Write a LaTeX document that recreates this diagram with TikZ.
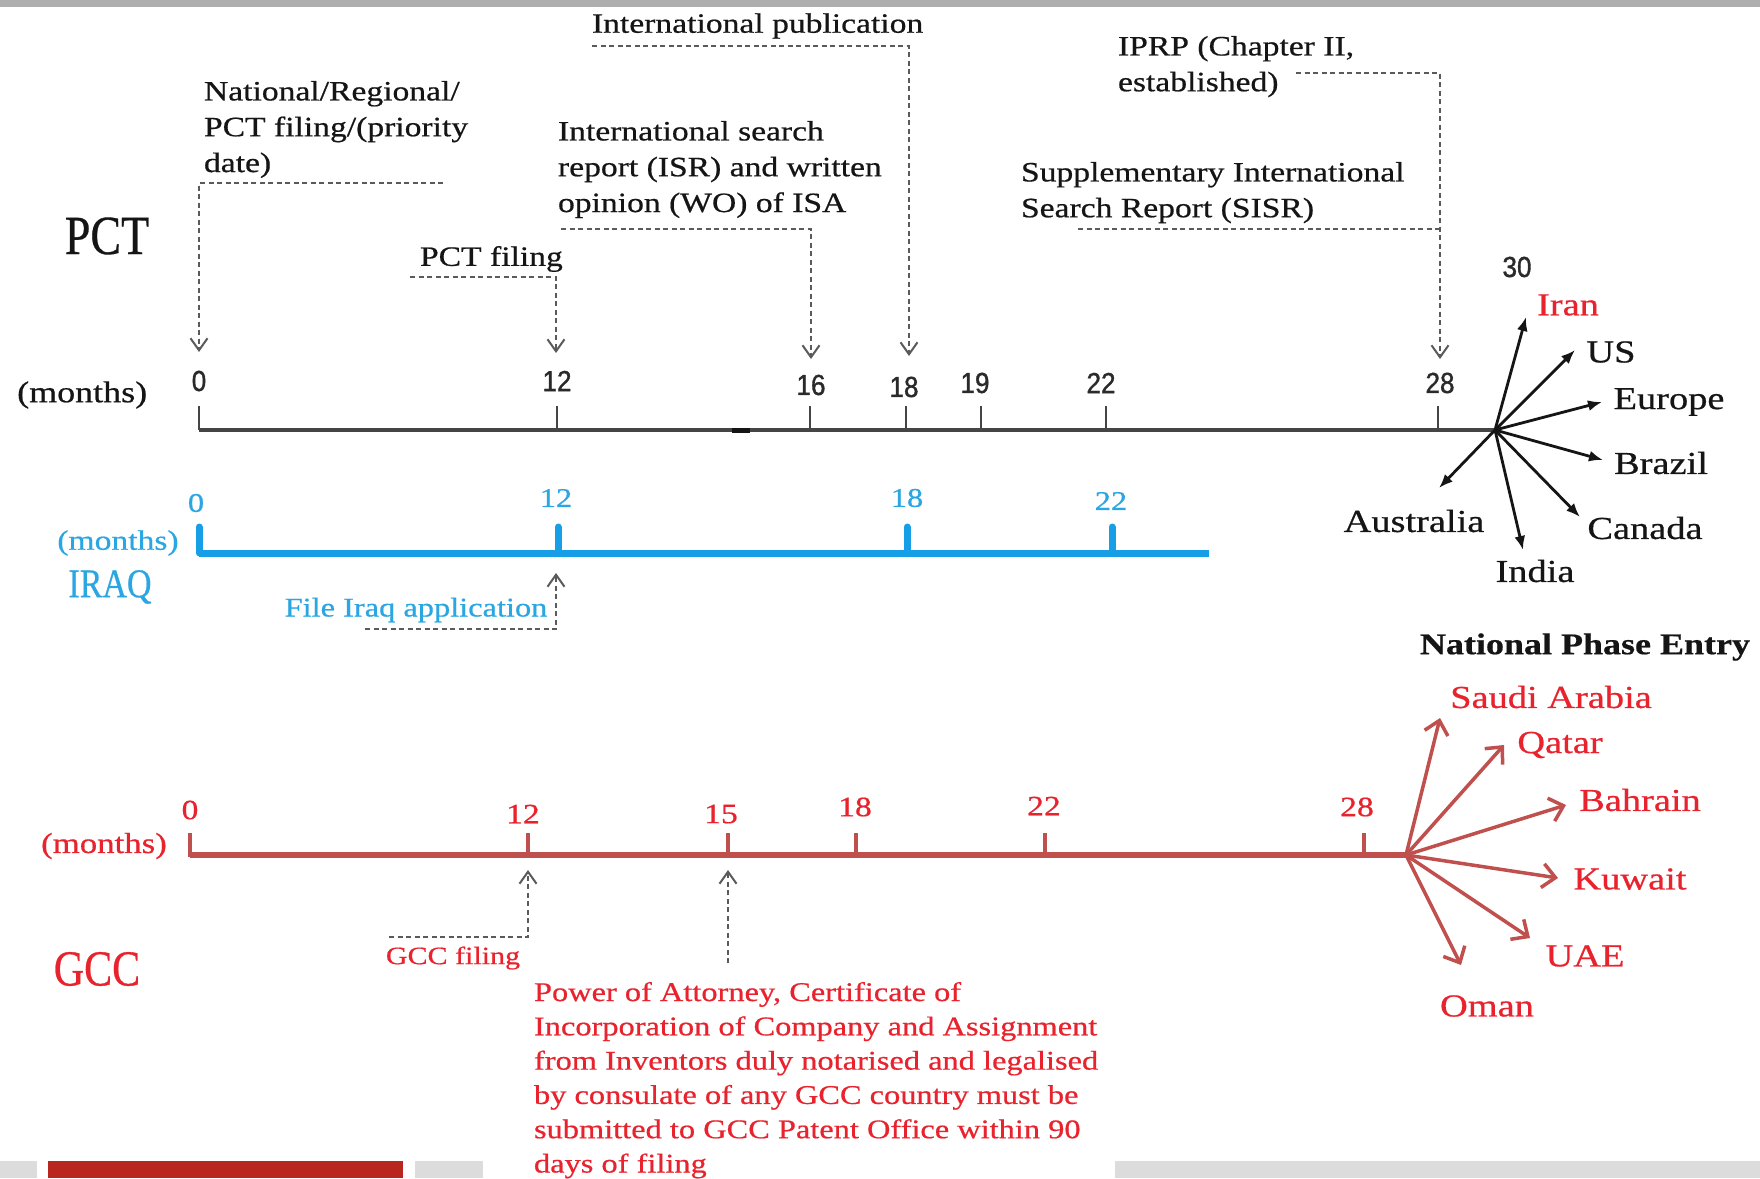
\documentclass[tikz,border=0pt]{standalone}
\usepackage{fontspec}
\setmainfont{Liberation Serif}[FakeStretch=1.2,FakeBold=0.6]
\newfontfamily\plainserif{Liberation Serif}[FakeBold=0.6]
\newfontfamily\arialf{Liberation Sans}[FakeStretch=0.9,FakeBold=1.2]
\usetikzlibrary{arrows.meta}
\definecolor{txtblack}{HTML}{151515}
\definecolor{numgray}{HTML}{2A2A2A}
\definecolor{pctgray}{HTML}{454545}
\definecolor{dashgray}{HTML}{5A5A5A}
\definecolor{iraqblue}{HTML}{169FE6}
\definecolor{iraqtxt}{HTML}{2AA6E2}
\definecolor{gccline}{HTML}{C0504D}
\definecolor{gcctxt}{HTML}{E8232E}
\definecolor{barsgray}{HTML}{DCDCDC}
\definecolor{topgray}{HTML}{AEAEAE}
\definecolor{blockred}{HTML}{B8261F}
\tikzset{
  lbl/.style={inner sep=0pt, outer sep=0pt, align=left, text=txtblack, font=\fontsize{28}{35.8}\selectfont},
  numk/.style={inner sep=0pt, text=numgray, font=\arialf\fontsize{29}{32}\selectfont},
  numb/.style={inner sep=0pt, text=iraqtxt, font=\fontsize{27}{30}\selectfont},
  numr/.style={inner sep=0pt, text=gcctxt, font=\fontsize{28}{30}\selectfont},
  ctry/.style={inner sep=0pt, text=txtblack, font=\fontsize{32}{36}\selectfont},
  rctry/.style={inner sep=0pt, text=gcctxt, font=\fontsize{32}{36}\selectfont},
  connline/.style={draw=dashgray, line width=2pt, dash pattern=on 5pt off 3.5pt},
  conn/.style={connline, -{Straight Barb[length=12pt,width=17pt,line width=2pt]}},
  pctline/.style={draw=pctgray, line width=3.4pt},
  pcttick/.style={draw=pctgray, line width=2.8pt},
  pctarrow/.style={draw=txtblack, line width=2.8pt, -{Latex[length=14pt,width=11pt]}},
  iraqline/.style={draw=iraqblue, line width=7pt},
  iraqtick/.style={draw=iraqblue, line width=7pt, line cap=round},
  gccl/.style={draw=gccline, line width=5.5pt},
  gcctick/.style={draw=gccline, line width=4pt},
  gccarrow/.style={draw=gccline, line width=3.5pt, -{Straight Barb[length=13pt,width=24pt,line width=3.5pt]}},
}
\begin{document}
\begin{tikzpicture}[x=1pt,y=-1pt]
\useasboundingbox (0,0) rectangle (1760,1178);
\fill[white] (0,0) rectangle (1760,1178);
% top rule and bottom strip
\fill[topgray] (0,0) rectangle (1760,7);
\fill[barsgray] (0,1161) rectangle (37,1178);
\fill[blockred] (48,1161) rectangle (403,1178);
\fill[barsgray] (415,1161) rectangle (483,1178);
\fill[barsgray] (1115,1161) rectangle (1760,1178);

% ================= PCT =================
\node[inner sep=0pt, text=txtblack, font=\plainserif\fontsize{46}{50}\selectfont] (pct) at (107,236) {\scalebox{1}[1.2]{PCT}};
\node[inner sep=0pt, text=txtblack, font=\fontsize{30}{34}\selectfont, anchor=west] (pmon) at (17,395) {(months)};

\coordinate (pstart) at (199,430);
\coordinate (phub) at (1495,430);
\draw[pctline] (pstart) -- (phub);
\fill[txtblack] (732,427.5) rectangle (750,433);
\foreach \n/\x in {t0/199,t12/557,t16/810,t18/906,t19/981,t22/1106,t28/1438}{
  \coordinate (\n) at (\x,430);
  \draw[pcttick] (\n) -- ++(0,-24);
}
\node[numk] (p0) at (199,381) {0};
\node[numk] (p12) at (557,381) {12};
\node[numk] (p16) at (811,385) {16};
\node[numk] (p18) at (904,387) {18};
\node[numk] (p19) at (975,383) {19};
\node[numk] (p22) at (1101,383) {22};
\node[numk] (p28) at (1440,383) {28};
\node[numk] (p30) at (1517,267) {30};

% annotation texts
\node[lbl, anchor=west] (pub) at (592,26) {International publication};
\node[lbl, anchor=north west] (natl) at (204,81) {National/Regional/\\PCT filing/(priority\\date)};
\node[lbl, anchor=west] (pctf) at (420,259) {PCT filing};
\node[lbl, anchor=north west] (isr) at (558,121) {International search\\report (ISR) and written\\opinion (WO) of ISA};
\node[lbl, anchor=north west] (iprp) at (1118,36) {IPRP (Chapter II,\\established)};
\node[lbl, anchor=north west] (sisr) at (1021,162) {Supplementary International\\Search Report (SISR)};

% dashed connectors
\coordinate (natlA) at (443,183); \coordinate (a0) at (199,352);
\coordinate (pctfA) at (410,277); \coordinate (a12) at (556,353);
\coordinate (isrA) at (561,229); \coordinate (a16) at (811,359);
\coordinate (pubA) at (592,46); \coordinate (a18) at (909,356);
\coordinate (iprpA) at (1296,73); \coordinate (a28) at (1440,359);
\coordinate (sisrA) at (1078,229); \coordinate (sisrB) at (1440,229);
\draw[conn] (natlA) -| (a0);
\draw[conn] (pctfA) -| (a12);
\draw[conn] (isrA) -| (a16);
\draw[conn] (pubA) -| (a18);
\draw[conn] (iprpA) -| (a28);
\draw[connline] (sisrA) -- (sisrB);

% country fan
\foreach \n/\x/\y in {eIran/1526/317,eUS/1575/350,eEurope/1602/402,eBrazil/1603/460,eCanada/1580/517,eIndia/1523/550,eAustralia/1439/488}{
  \coordinate (\n) at (\x,\y);
  \draw[pctarrow] (phub) -- (\n);
}
\node[ctry, text=gcctxt] (iran) at (1568,305) {Iran};
\node[ctry] (us) at (1611,352) {US};
\node[ctry] (europe) at (1669,402) {Europe};
\node[ctry] (brazil) at (1661,463) {Brazil};
\node[ctry] (canada) at (1645,528) {Canada};
\node[ctry] (india) at (1535,571) {India};
\node[ctry] (australia) at (1414,521) {Australia};

% ================= IRAQ =================
\coordinate (istart) at (199,553);
\coordinate (iend) at (1209,553);
\draw[iraqline] (istart) -- (iend);
\foreach \n/\x in {i0/199,i12/558,i18/907,i22/1112}{
  \coordinate (\n) at (\x,553);
  \draw[iraqtick] (\n) -- ++(0,-26);
}
\node[numb] (b0) at (196,503) {0};
\node[numb] (b12) at (556,498) {12};
\node[numb] (b18) at (907,498) {18};
\node[numb] (b22) at (1111,501) {22};
\node[inner sep=0pt, text=iraqtxt, font=\fontsize{28}{32}\selectfont] (bmon) at (118,543) {(months)};
\node[inner sep=0pt, text=iraqtxt, font=\plainserif\fontsize{34}{40}\selectfont] (iraq) at (110,587) {\scalebox{1}[1.2]{IRAQ}};
\node[inner sep=0pt, text=iraqtxt, font=\fontsize{27}{32}\selectfont] (fileiraq) at (416,610) {File Iraq application};
\coordinate (fiA) at (365,629); \coordinate (ai12) at (556,573);
\draw[conn] (fiA) -| (ai12);

% ================= GCC =================
\node[inner sep=0pt, text=gcctxt, font=\plainserif\fontsize{42}{46}\selectfont] (gcc) at (97,969) {\scalebox{1}[1.2]{GCC}};
\node[inner sep=0pt, text=gcctxt, font=\fontsize{29}{32}\selectfont] (gmon) at (104,846) {(months)};
\coordinate (gstart) at (190,855);
\coordinate (ghub) at (1406,855);
\draw[gccl] (gstart) -- (ghub);
\draw[gcctick] (190,857) -- ++(0,-24);
\foreach \n/\x in {g12/528,g15/728,g18/856,g22/1045,g28/1364}{
  \coordinate (\n) at (\x,855);
  \draw[gcctick] (\n) -- ++(0,-22);
}
\node[numr] (r0) at (190,810) {0};
\node[numr] (r12) at (523,814) {12};
\node[numr] (r15) at (721,814) {15};
\node[numr] (r18) at (855,807) {18};
\node[numr] (r22) at (1044,806) {22};
\node[numr] (r28) at (1357,807) {28};

\node[inner sep=0pt, text=gcctxt, font=\fontsize{25}{30}\selectfont] (gfil) at (453,958) {GCC filing};
\coordinate (gfA) at (389,937); \coordinate (ag12) at (528,870);
\draw[conn] (gfA) -| (ag12);
\coordinate (poaA) at (728,963); \coordinate (ag15) at (728,870);
\draw[conn] (poaA) -- (ag15);
\node[lbl, anchor=north west, text=gcctxt, font=\fontsize{27}{34.3}\selectfont] (poa) at (534,982)
  {Power of Attorney, Certificate of\\Incorporation of Company and Assignment\\from Inventors duly notarised and legalised\\by consulate of any GCC country must be\\submitted to GCC Patent Office within 90\\days of filing};

\node[inner sep=0pt, text=txtblack, font=\bfseries\fontsize{30}{32}\selectfont] (npe) at (1585,647) {National Phase Entry};
\foreach \n/\x/\y in {eSaudi/1440/718,eQatar/1504/745,eBahrain/1566/805,eKuwait/1558/878,eUAE/1530/938,eOman/1461/965}{
  \coordinate (\n) at (\x,\y);
  \draw[gccarrow] (ghub) -- (\n);
}
\node[rctry] (saudi) at (1551,697) {Saudi Arabia};
\node[rctry] (qatar) at (1560,745) {Qatar};
\node[rctry] (bahrain) at (1640,800) {Bahrain};
\node[rctry] (kuwait) at (1630,879) {Kuwait};
\node[rctry] (uae) at (1585,956) {UAE};
\node[rctry] (oman) at (1487,1006) {Oman};
\end{tikzpicture}
\end{document}
